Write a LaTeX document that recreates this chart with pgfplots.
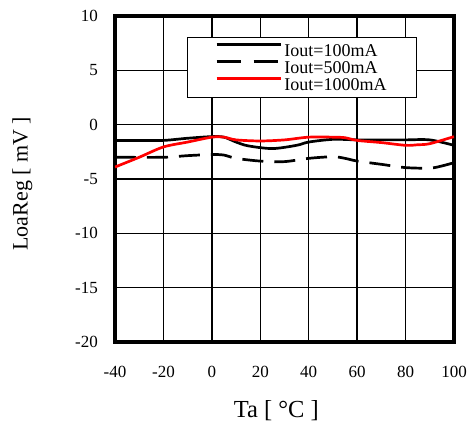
\documentclass[border=0pt]{standalone}
\usepackage{pgfplots}
\pgfplotsset{compat=1.18}
\usepackage{fontspec}
\setmainfont{Liberation Serif}
\begin{document}
\begin{tikzpicture}
\useasboundingbox (-115bp,-83bp) rectangle (355bp,342bp);
\begin{axis}[
  at={(0,0)}, anchor=south west,
  scale only axis, width=339bp, height=326bp,
  xmin=-40, xmax=100, ymin=-20, ymax=10,
  xtick={-40,-20,...,100}, ytick={-20,-15,...,10},
  grid=major, grid style={black, line width=1.4bp},
  axis line style={line width=3.2bp},
  major tick length=0pt,
  /pgf/number format/assume math mode=true,
  ticklabel style={font=\fontsize{17bp}{19bp}\selectfont, inner sep=0pt},
  xticklabel style={anchor=north, yshift=-24bp},
  yticklabel style={anchor=east, xshift=-17bp},
  xlabel={Ta [ °C ]},
  ylabel={LoaReg [ mV ]},
  xlabel style={font=\fontsize{24.5bp}{26bp}\selectfont, inner sep=0pt,
    at={(rel axis cs:0.476,-0.2331)}, anchor=base},
  ylabel style={font=\fontsize{22bp}{24bp}\selectfont, inner sep=0pt,
    at={(rel axis cs:-0.258,0.486)}, anchor=base},
  legend style={at={(rel axis cs:0.2124,0.9365)}, anchor=north west,
    draw=black, line width=1.4bp, fill=white,
    font=\fontsize{18bp}{18bp}\selectfont,
    row sep=0bp, inner xsep=27.5bp, inner ysep=4.5bp,
    nodes={inner xsep=2.5bp, inner ysep=1bp, text height=14bp, text depth=1bp},
    column 2/.style={nodes={text width=108bp, align=left}},
    cells={anchor=west}},
  legend image code/.code={\draw[#1] (0bp,6bp) -- (64bp,6bp);},
  every axis plot/.append style={line width=2.7bp, smooth, tension=0.5},
]
\addplot[black] coordinates {(-40,-1.45) (-30,-1.45) (-20,-1.45) (-10,-1.25) (0,-1.1) (5,-1.15) (10,-1.6) (15,-1.95) (25,-2.2) (35,-1.9) (40,-1.6) (50,-1.35) (60,-1.4) (70,-1.4) (80,-1.4) (90,-1.4) (100,-1.9)};
\addlegendentry{Iout=100mA}
\addplot[black, dash pattern=on 21bp off 11bp, legend image post style={dash pattern=on 24bp off 13bp}] coordinates {(-40,-3.0) (-20,-3.0) (-10,-2.85) (0,-2.75) (5,-2.8) (10,-3.1) (20,-3.35) (30,-3.4) (40,-3.1) (50,-2.95) (55,-3.1) (60,-3.35) (70,-3.65) (80,-3.95) (90,-4.0) (95,-3.8) (100,-3.5)};
\addlegendentry{Iout=500mA}
\addplot[red] coordinates {(-40,-3.9) (-30,-3.0) (-20,-2.05) (-10,-1.6) (0,-1.15) (5,-1.15) (10,-1.4) (20,-1.5) (30,-1.4) (40,-1.15) (50,-1.15) (55,-1.2) (60,-1.45) (70,-1.65) (80,-1.9) (85,-1.85) (90,-1.75) (100,-1.1)};
\addlegendentry{Iout=1000mA}
\end{axis}
\end{tikzpicture}
\end{document}
